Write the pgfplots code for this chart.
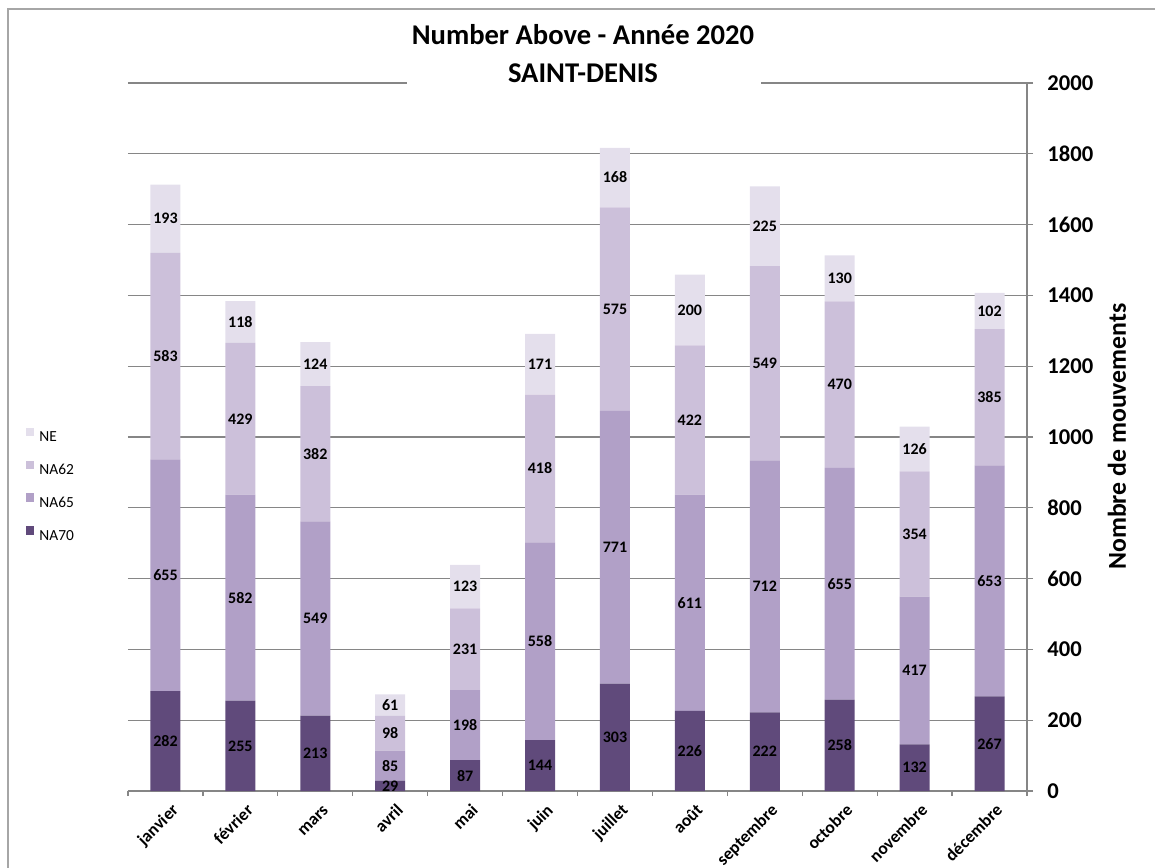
\documentclass[border=0pt]{standalone}
\usepackage{pgfplots}
\pgfplotsset{compat=1.18}
\usepackage{pgfplotstable}
\usepackage{fontspec}
\setmainfont{Carlito}

\definecolor{naSeventy}{HTML}{604A7B}
\definecolor{naSixtyFive}{HTML}{B1A0C7}
\definecolor{naSixtyTwo}{HTML}{CCC0DA}
\definecolor{neColor}{HTML}{E4DFEC}
\definecolor{gridgray}{HTML}{868686}
\definecolor{framegray}{HTML}{A6A6A6}

% monthly movements per noise class, Saint-Denis 2020
\pgfplotstableread{
idx na70 na65 na62 ne
0  282 655 583 193
1  255 582 429 118
2  213 549 382 124
3  29  85  98  61
4  87  198 231 123
5  144 558 418 171
6  303 771 575 168
7  226 611 422 200
8  222 712 549 225
9  258 655 470 130
10 132 417 354 126
11 267 653 385 102
}\datatable

\begin{document}
\begin{tikzpicture}
\useasboundingbox (-64pt,-38pt) rectangle (513.5pt,395.5pt);
\begin{axis}[
  at={(0,0)}, anchor=south west,
  scale only axis, width=449.5pt, height=354pt,
  ybar stacked, bar width=15pt,
  xmin=-0.5, xmax=11.5, ymin=0, ymax=2000,
  xtick={0,...,11},
  xticklabels={janvier,février,mars,avril,mai,juin,juillet,août,septembre,octobre,novembre,décembre},
  minor xtick={-0.5,0.5,...,11.5},
  ytick={0,200,...,2000},
  axis x line*=bottom, axis y line*=right,
  axis line style={gridgray, line width=0.6pt},
  ymajorgrids, major grid style={gridgray, line width=0.6pt},
  tick align=outside,
  major tick length=3pt, minor tick length=2.5pt,
  major x tick style={draw=none},
  minor x tick style={gridgray, line width=0.6pt},
  y tick style={gridgray, line width=0.6pt},
  /pgf/number format/assume math mode=true,
  /pgf/number format/1000 sep={},
  yticklabel style={font=\fontsize{11.3}{13}\selectfont\bfseries, anchor=west, inner sep=0pt, xshift=7pt},
  xticklabel style={font=\fontsize{8.7}{10}\selectfont\bfseries, rotate=45, anchor=base east, inner sep=0pt, xshift=0pt, yshift=-10pt},
  visualization depends on={rawy \as \rawy},
  nodes near coords={\pgfmathprintnumber[fixed, precision=0]{\rawy}},
  every node near coord/.append style={anchor=center, inner sep=0pt,
    font=\fontsize{8}{9.6}\selectfont\bfseries},
  reverse legend,
  legend cell align=left,
  legend style={at={(axis description cs:-0.1138,0.4336)}, anchor=west,
    draw=none, fill=none, inner sep=0pt, row sep=9.3pt,
    font=\fontsize{7.7}{9}\selectfont,
    nodes={inner sep=0pt, text height=5pt, text depth=0pt},
    /tikz/every odd column/.append style={column sep=2.5pt}},
  legend image code/.code={\fill[#1] (0pt,0.4pt) rectangle (4.2pt,4.6pt);},
]
\addplot[fill=naSeventy, draw=none] table[x=idx, y=na70] {\datatable};
\addlegendentry{NA70}
\addplot[fill=naSixtyFive, draw=none] table[x=idx, y=na65] {\datatable};
\addlegendentry{NA65}
\addplot[fill=naSixtyTwo, draw=none] table[x=idx, y=na62] {\datatable};
\addlegendentry{NA62}
\addplot[fill=neColor, draw=none] table[x=idx, y=ne] {\datatable};
\addlegendentry{NE}
\end{axis}
% gap in the top gridline behind the title
\fill[white] (139.5pt,352pt) rectangle (316.5pt,356pt);
\node[anchor=base, font=\fontsize{14.3}{17}\selectfont\bfseries] at (227.5pt,373pt) {Number Above - Année 2020};
\node[anchor=base, font=\fontsize{14.3}{17}\selectfont\bfseries] at (227.5pt,354pt) {SAINT-DENIS};
\node[rotate=90, font=\fontsize{12.9}{15}\selectfont\bfseries] at (494.5pt,177.25pt) {Nombre de mouvements};
% chart frame
\draw[framegray, line width=0.8pt] (-60pt,-40pt) -- (-60pt,391pt) -- (516pt,391pt);
\end{tikzpicture}
\end{document}
